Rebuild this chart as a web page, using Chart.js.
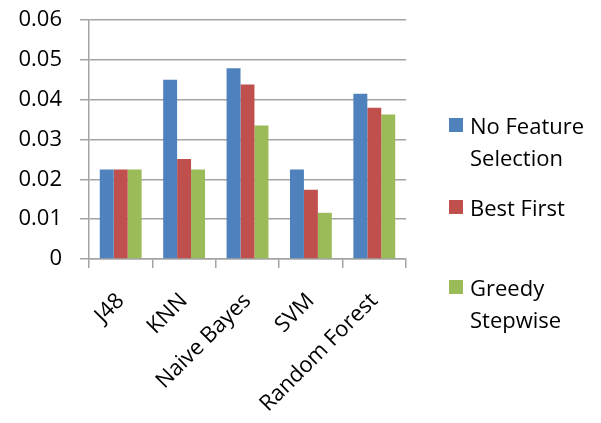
<!DOCTYPE html>
<html>
<head>
<meta charset="utf-8">
<script src="https://cdn.jsdelivr.net/npm/chart.js@4"></script>
<style>
    body {
        margin: 0;
        background: #ffffff;
        font-family: "Open Sans", sans-serif;
    }

    .chart-wrap {
        position: relative;
        width: 601px;
        height: 423px;
    }

    .legend-item {
        position: absolute;
        left: 449px;
        width: 150px;
        display: flex;
        align-items: flex-start;
        font-size: 22px;
        line-height: 32px;
        color: #000000;
    }

    .legend-swatch {
        width: 14px;
        height: 14px;
        margin-top: 9px;
        margin-right: 7px;
        flex: none;
    }

    .legend-text {
        width: 128px;
    }
</style>
</head>
<body>
<div class="chart-wrap" id="chartWrap">
    <canvas id="selectionChart" width="601" height="423"></canvas>
</div>

<script>
const categories = ["J48", "KNN", "Naive Bayes", "SVM", "Random Forest"];
const seriesNames = ["No Feature Selection", "Best First", "Greedy Stepwise"];

const noFeatureSelection = [0.0225, 0.0450, 0.0479, 0.0225, 0.0415];
const bestFirst = [0.0225, 0.0251, 0.0438, 0.0174, 0.0380];
const greedyStepwise = [0.0225, 0.0225, 0.0335, 0.0116, 0.0363];

const yTickValues = [0, 0.01, 0.02, 0.03, 0.04, 0.05, 0.06];

const seriesColors = [
    "#4F81BD", // blue
    "#C0504D", // red
    "#9BBB59"  // green
];


document.addEventListener("DOMContentLoaded", function () {
    initializeSelectionChart();
    buildLegend();
});


function initializeSelectionChart() {
    const canvas = document.getElementById("selectionChart");

    if (!canvas || typeof Chart === "undefined") {
        return;
    }

    const seriesValues = [noFeatureSelection, bestFirst, greedyStepwise];
    const gridColor = "#a3a3a3";
    const tickFont = { family: "Open Sans", size: 22 };

    new Chart(canvas, {
        type: "bar",

        data: {
            labels: categories,

            datasets: seriesNames.map(function (name, index) {
                return {
                    label: name,
                    data: seriesValues[index],
                    backgroundColor: seriesColors[index],
                    borderWidth: 0,
                    barPercentage: 1,
                    categoryPercentage: 0.66
                };
            })
        },

        options: {
            responsive: false,
            animation: false,
            layout: {
                padding: { top: 20, right: 195, bottom: 0, left: 0 }
            },

            plugins: {
                legend: { display: false },
                tooltip: { enabled: false }
            },

            scales: {
                x: {
                    offset: true,
                    grid: {
                        offset: true,
                        drawOnChartArea: false,
                        drawTicks: true,
                        tickLength: 9,
                        color: gridColor,
                        lineWidth: 1.5
                    },
                    border: { color: gridColor, width: 1.5 },
                    ticks: {
                        color: "#000000",
                        font: tickFont,
                        minRotation: 45,
                        maxRotation: 45,
                        padding: 20
                    },
                    afterFit: function (scale) {
                        scale.height = 164;
                        scale.paddingLeft = 0;
                        scale.paddingRight = 0;
                    }
                },

                y: {
                    min: 0,
                    max: 0.06,
                    grid: {
                        color: gridColor,
                        lineWidth: 1.5,
                        tickLength: 9
                    },
                    border: { color: gridColor, width: 1.5 },
                    ticks: {
                        color: "#000000",
                        font: tickFont,
                        padding: 18,
                        callback: function (value) {
                            return String(value);
                        }
                    },
                    afterBuildTicks: function (scale) {
                        scale.ticks = yTickValues.map(function (value) {
                            return { value: value };
                        });
                    },
                    afterFit: function (scale) {
                        // keep the plot edge at a fixed place, labels may overhang
                        scale.width = 89;
                        scale.paddingTop = 0;
                        scale.paddingBottom = 0;
                    }
                }
            }
        }
    });
}


function buildLegend() {
    const wrap = document.getElementById("chartWrap");
    const itemTops = [109, 191, 271];

    seriesNames.forEach(function (name, index) {
        const item = document.createElement("div");
        item.className = "legend-item";
        item.style.top = itemTops[index] + "px";

        const swatch = document.createElement("span");
        swatch.className = "legend-swatch";
        swatch.style.background = seriesColors[index];

        const text = document.createElement("span");
        text.className = "legend-text";
        text.textContent = name;

        item.appendChild(swatch);
        item.appendChild(text);
        wrap.appendChild(item);
    });
}
</script>
</body>
</html>
